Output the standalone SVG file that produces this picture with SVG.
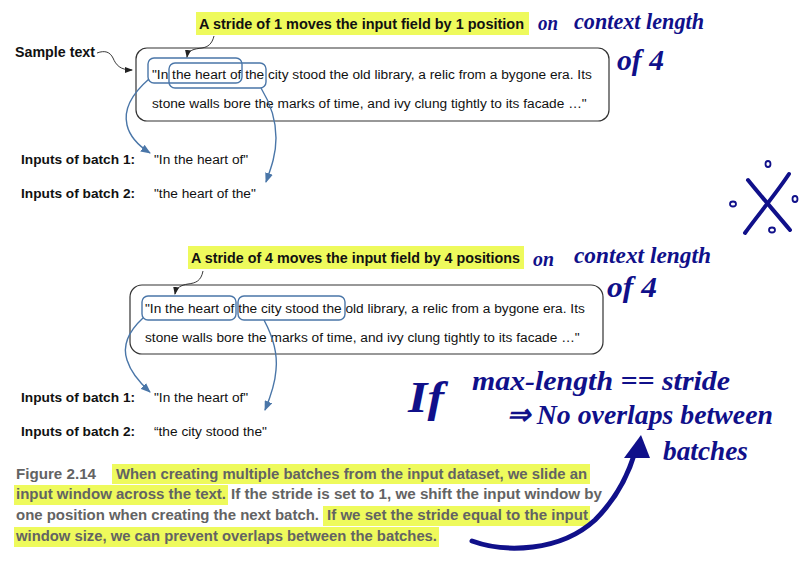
<svg xmlns="http://www.w3.org/2000/svg" width="807" height="567" viewBox="0 0 807 567">
<defs>
<style>
.hl{fill:#eefa5c}
.title{font-family:"Liberation Sans",Arial,sans-serif;font-weight:bold;font-size:15px;fill:#111}
.body{font-family:"Liberation Sans",Arial,sans-serif;font-size:13.7px;fill:#111}
.lbl{font-family:"Liberation Sans",Arial,sans-serif;font-weight:bold;font-size:13.7px;fill:#111}
.box{fill:none;stroke:#333;stroke-width:1.2}
.win{fill:none;stroke:#4a76a8;stroke-width:1.4}
.bl{fill:none;stroke:#4a76a8;stroke-width:1.4}
.sq{fill:none;stroke:#222;stroke-width:0.9}
.cap{font-family:"Liberation Sans",Arial,sans-serif;font-weight:bold;font-size:14px;fill:#636363}
.hw{font-family:"Liberation Serif","Times New Roman",serif;font-weight:bold;font-style:italic;fill:#10108a}
.ink{fill:none;stroke:#10108a;stroke-linecap:round}
</style>
<marker id="ab" viewBox="0 0 10 8" refX="9" refY="4" markerWidth="10" markerHeight="8" markerUnits="userSpaceOnUse" orient="auto"><path d="M0,0 L10,4 L0,8 z" fill="#4a76a8"/></marker>
<marker id="ak" viewBox="0 0 8 6" refX="7" refY="3" markerWidth="8" markerHeight="6" markerUnits="userSpaceOnUse" orient="auto"><path d="M0,0 L8,3 L0,6 z" fill="#222"/></marker>
</defs>

<g id="title1">
<rect class="hl" x="196" y="12" width="333" height="23"/>
<text class="title" x="199" y="29" textLength="325" lengthAdjust="spacingAndGlyphs">A stride of 1 moves the input field by 1 position</text>
</g>
<g id="sample-label">
<text class="title" x="15" y="57" textLength="80" lengthAdjust="spacingAndGlyphs">Sample text</text>
</g>
<g id="box1">
<rect class="box" x="136" y="48" width="473" height="73" rx="11"/>
<text class="body" x="152" y="79">"In the heart of the city stood the old library, a relic from a bygone era. Its</text>
<text class="body" x="152" y="108">stone walls bore the marks of time, and ivy clung tightly to its facade …"</text>
<rect class="win" x="148" y="58" width="94" height="25" rx="6"/>
<rect class="win" x="169" y="63" width="97" height="25" rx="6"/>
</g>
<g id="batch1-top">
<text class="lbl" x="21" y="164">Inputs of batch 1:</text>
<text class="body" x="154" y="164">"In the heart of"</text>
</g>
<g id="batch2-top">
<text class="lbl" x="21" y="198">Inputs of batch 2:</text>
<text class="body" x="154" y="198">"the heart of the"</text>
</g>

<g id="title2">
<rect class="hl" x="188" y="246" width="336" height="23"/>
<text class="title" x="191" y="263" font-size="14.6" textLength="329" lengthAdjust="spacingAndGlyphs">A stride of 4 moves the input field by 4 positions</text>
</g>
<g id="box2">
<rect class="box" x="130" y="285" width="473" height="69" rx="12"/>
<text class="body" x="145" y="313">"In the heart of the city stood the old library, a relic from a bygone era. Its</text>
<text class="body" x="145" y="342">stone walls bore the marks of time, and ivy clung tightly to its facade …"</text>
<rect class="win" x="142" y="296" width="94" height="24" rx="6"/>
<rect class="win" x="238" y="296" width="107" height="24" rx="6"/>
</g>
<g id="batch1-mid">
<text class="lbl" x="21" y="402">Inputs of batch 1:</text>
<text class="body" x="154" y="402">"In the heart of"</text>
</g>
<g id="batch2-mid">
<text class="lbl" x="21" y="436">Inputs of batch 2:</text>
<text class="body" x="154" y="436">“the city stood the"</text>
</g>

<g id="connectors">
<path class="sq" d="M97,53 C105,50 110,52 113,58 C116,65 120,70 132,70" marker-end="url(#ak)"/>
<path class="sq" d="M214,36 C212,44 208,47 202,48 C194,49 188,50 187,57" marker-end="url(#ak)"/>
<path class="sq" d="M203,271 C201,281 196,283 188,284 C181,285 176,288 175,294" marker-end="url(#ak)"/>
<path class="bl" d="M149,79 C134,92 123,108 127,125 C130,138 139,146 150,153" marker-end="url(#ab)"/>
<path class="bl" d="M261,88 C269,101 276,118 276,138 C276,155 271,168 266,182" marker-end="url(#ab)"/>
<path class="bl" d="M143,318 C130,330 122,345 127,360 C131,373 140,383 150,392" marker-end="url(#ab)"/>
<path class="bl" d="M264,320 C272,335 278,352 276,370 C275,385 270,398 265,410" marker-end="url(#ab)"/>
</g>

<g id="caption">
<rect class="hl" x="112" y="464" width="478" height="20"/>
<rect class="hl" x="14" y="485" width="214" height="20"/>
<rect class="hl" x="323" y="506" width="267" height="20"/>
<rect class="hl" x="14" y="527" width="425" height="20"/>
<text class="cap" x="16" y="479" textLength="80" lengthAdjust="spacingAndGlyphs">Figure 2.14</text>
<text class="cap" x="116" y="479" textLength="471" lengthAdjust="spacingAndGlyphs">When creating multiple batches from the input dataset, we slide an</text>
<text class="cap" x="16" y="499" textLength="210" lengthAdjust="spacingAndGlyphs">input window across the text.</text>
<text class="cap" x="231" y="499" textLength="371" lengthAdjust="spacingAndGlyphs">If the stride is set to 1, we shift the input window by</text>
<text class="cap" x="16" y="520" textLength="303" lengthAdjust="spacingAndGlyphs">one position when creating the next batch.</text>
<text class="cap" x="327" y="520" textLength="261" lengthAdjust="spacingAndGlyphs">If we set the stride equal to the input</text>
<text class="cap" x="16" y="541" textLength="421" lengthAdjust="spacingAndGlyphs">window size, we can prevent overlaps between the batches.</text>
</g>

<g id="notes">
<text class="hw" x="538" y="30" font-size="22" textLength="20" lengthAdjust="spacingAndGlyphs">on</text>
<text class="hw" x="574" y="29" font-size="24" textLength="130" lengthAdjust="spacingAndGlyphs">context length</text>
<text class="hw" x="617" y="70" font-size="30" textLength="47" lengthAdjust="spacingAndGlyphs">of 4</text>
<text class="hw" x="533" y="266" font-size="22" textLength="21" lengthAdjust="spacingAndGlyphs">on</text>
<text class="hw" x="574" y="263" font-size="24" textLength="137" lengthAdjust="spacingAndGlyphs">context length</text>
<text class="hw" x="607" y="297" font-size="30" textLength="50" lengthAdjust="spacingAndGlyphs">of 4</text>
<path class="ink" stroke-width="4" d="M748,180 C760,195 775,212 790,230"/>
<path class="ink" stroke-width="4" d="M789,174 C775,195 758,215 745,233"/>
<ellipse cx="768" cy="164" rx="2.5" ry="3" class="ink" stroke-width="1.8"/>
<ellipse cx="733" cy="204" rx="3" ry="2.5" class="ink" stroke-width="1.8"/>
<ellipse cx="795" cy="199" rx="2.5" ry="3" class="ink" stroke-width="1.8"/>
<ellipse cx="772" cy="230" rx="3" ry="2.5" class="ink" stroke-width="1.8"/>
<text class="hw" x="408" y="412" font-size="44" textLength="36" lengthAdjust="spacingAndGlyphs">If</text>
<text class="hw" x="472" y="390" font-size="28" textLength="258" lengthAdjust="spacingAndGlyphs">max-length == stride</text>
<text class="hw" x="507" y="424" font-size="28" textLength="266" lengthAdjust="spacingAndGlyphs">⇒ No overlaps between</text>
<text class="hw" x="663" y="460" font-size="28" textLength="85" lengthAdjust="spacingAndGlyphs">batches</text>
<path class="ink" stroke-width="5" d="M472,541 C505,553 560,552 595,520 C615,500 628,476 635,452"/>
<path d="M624,458 L641,435 L650,458 z" fill="#10108a"/>
</g>
</svg>
